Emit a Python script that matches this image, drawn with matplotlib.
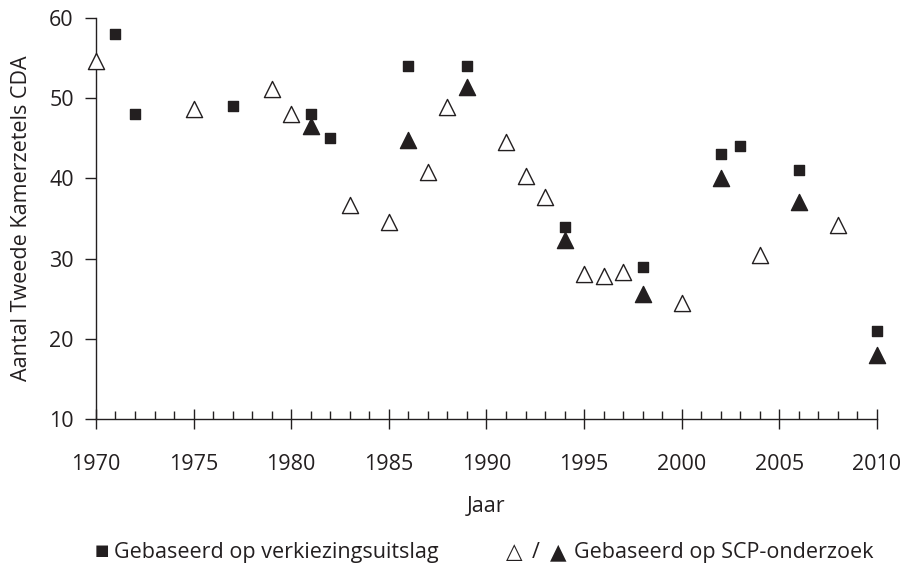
import matplotlib
matplotlib.use("Agg")
import matplotlib.pyplot as plt
from matplotlib.ticker import MultipleLocator

plt.rcParams['font.family'] = ['Open Sans', 'DejaVu Sans']

# zetels volgens verkiezingsuitslag
jaar_uitslag = [1971, 1972, 1977, 1981, 1982, 1986, 1989, 1994, 1998, 2002, 2003, 2006, 2010]
zetels_uitslag = [58, 48, 49, 48, 45, 54, 54, 34, 29, 43, 44, 41, 21]

# SCP-onderzoek, open driehoeken
jaar_scp_open = [1970, 1975, 1979, 1980, 1983, 1985, 1987, 1988, 1991, 1992, 1993,
                 1995, 1996, 1997, 2000, 2004, 2008]
zetels_scp_open = [54.6, 48.7, 51.1, 48.0, 36.7, 34.6, 40.8, 48.9, 44.5, 40.3, 37.7,
                   28.1, 27.8, 28.3, 24.5, 30.4, 34.2]

# SCP-onderzoek, dichte driehoeken (verkiezingsjaren)
jaar_scp_dicht = [1981, 1986, 1989, 1994, 1998, 2002, 2006, 2010]
zetels_scp_dicht = [46.5, 44.8, 51.4, 32.3, 25.6, 40.1, 37.0, 18.0]

kleur = '#231f20'

fig = plt.figure(figsize=(9.02, 5.65), dpi=100)
ax = fig.add_axes([0.1064, 0.2584, 0.8659, 0.7097])

ax.scatter(jaar_scp_open, zetels_scp_open, marker='^', s=135, facecolor='white',
           edgecolor=kleur, linewidth=1.0, clip_on=False, zorder=3)
ax.scatter(jaar_scp_dicht, zetels_scp_dicht, marker='^', s=135, color=kleur,
           clip_on=False, zorder=3)
ax.scatter(jaar_uitslag, zetels_uitslag, marker='s', s=55, color=kleur,
           clip_on=False, zorder=4)

ax.set_xlim(1970, 2010)
ax.set_ylim(10, 60)
ax.xaxis.set_major_locator(MultipleLocator(5))
ax.xaxis.set_minor_locator(MultipleLocator(1))
ax.yaxis.set_major_locator(MultipleLocator(10))

for s in ['top', 'right']:
    ax.spines[s].set_visible(False)
for s in ['left', 'bottom']:
    ax.spines[s].set_linewidth(1.0)
    ax.spines[s].set_color(kleur)

ax.tick_params(axis='x', which='major', direction='inout', length=14, width=1,
               color=kleur, labelcolor=kleur, labelsize=15.5, pad=18)
ax.tick_params(axis='x', which='minor', direction='in', length=6, width=1, color=kleur)
ax.tick_params(axis='y', which='major', direction='out', length=8, width=1,
               color=kleur, labelcolor=kleur, labelsize=15.5, pad=8)

ax.set_xlabel('Jaar', fontsize=15.5, labelpad=15, color=kleur)
ax.set_ylabel('Aantal Tweede Kamerzetels CDA', fontsize=15.5, labelpad=12, color=kleur)

# legenda onder de figuur
y_leg = 0.0124
fig.text(0.1053, y_leg + 0.005, '■', fontsize=11, va='baseline', ha='left', color=kleur)
fig.text(0.1264, y_leg, 'Gebaseerd op verkiezingsuitslag', fontsize=15.5,
         va='baseline', ha='left', color=kleur)
fig.text(0.5610, y_leg, '△', fontsize=15.5, va='baseline', ha='left', color=kleur)
fig.text(0.5900, y_leg, '/', fontsize=15.5, va='baseline', ha='left', color=kleur)
fig.text(0.6100, y_leg, '▲', fontsize=15.5, va='baseline', ha='left', color=kleur)
fig.text(0.6360, y_leg, 'Gebaseerd op SCP-onderzoek', fontsize=15.5,
         va='baseline', ha='left', color=kleur)

fig.savefig('out.png', dpi=100)
